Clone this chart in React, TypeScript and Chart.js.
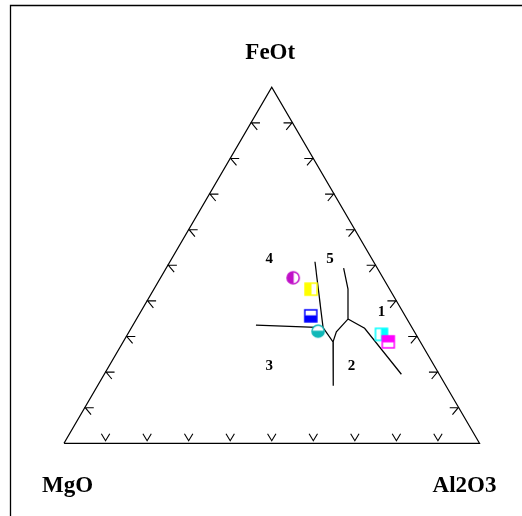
import React, { useEffect, useRef } from "react";
import { Chart, registerables } from "chart.js";
Chart.register(...registerables);

// Samples (wt% normalised): FeOt, Al2O3, MgO
const sampleFeOt = [46.5, 43.3, 35.8, 31.5, 30.6, 28.5];
const sampleAl2O3 = [31.9, 37.8, 41.5, 45.4, 61.1, 63.8];
const sampleMgO = [21.6, 18.9, 22.7, 23.1, 8.3, 7.7];
const sampleColors = ["#c010c8", "#ffff00", "#0000ff", "#10b8b8", "#00ffff", "#ff00ff"];
const sampleShapes = ["circle", "square", "square", "circle", "square", "square"];
const sampleHalf = ["left", "left", "bottom", "bottom", "right", "top"];

// Field boundaries, pairs of [FeOt, Al2O3]
const boundary1 = [[33.2, 29.6], [32.5, 46.1]];
const boundary2 = [[51.0, 34.9], [32.5, 46.1]];
const boundary3 = [[32.5, 46.1], [28.5, 50.5], [16.2, 56.7]];
const boundary4 = [[28.5, 50.5], [31.3, 49.9], [34.9, 50.9], [43.3, 46.7], [49.2, 42.7]];
const boundary5 = [[34.9, 50.9], [32.3, 56.2], [19.4, 71.5]];
const boundaries = [boundary1, boundary2, boundary3, boundary4, boundary5];

// Field labels
const fieldLabels = ["1", "2", "3", "4", "5"];
const fieldFeOt = [36.8, 21.8, 21.8, 51.8, 51.8];
const fieldAl2O3 = [58.0, 58.3, 38.5, 23.5, 38.1];

const tickPercents = [10, 20, 30, 40, 50, 60, 70, 80, 90];
const apexLabels = ["FeOt", "MgO", "Al2O3"];

const toXY = (feo: number, al: number) => ({ x: al + feo / 2, y: feo });

function makeMarker(shape: string, color: string, half: string): HTMLCanvasElement {
  const c = document.createElement("canvas");
  c.width = 16;
  c.height = 16;
  const ctx = c.getContext("2d")!;
  const path = new Path2D();
  if (shape === "circle") path.arc(8, 8, 6.1, 0, Math.PI * 2);
  else path.rect(2, 2, 12, 12);
  ctx.fillStyle = "#fff";
  ctx.fill(path);
  ctx.save();
  ctx.clip(path);
  ctx.fillStyle = color;
  if (half === "left") ctx.fillRect(0, 0, 8, 16);
  if (half === "right") ctx.fillRect(8, 0, 8, 16);
  if (half === "top") ctx.fillRect(0, 0, 16, 8);
  if (half === "bottom") ctx.fillRect(0, 8, 16, 8);
  ctx.restore();
  ctx.strokeStyle = color;
  ctx.lineWidth = 1.5;
  ctx.stroke(path);
  ctx.beginPath();
  if (half === "left" || half === "right") {
    ctx.moveTo(8, 2.5);
    ctx.lineTo(8, 13.5);
  } else {
    ctx.moveTo(2.5, 8);
    ctx.lineTo(13.5, 8);
  }
  ctx.lineWidth = 1;
  ctx.stroke();
  return c;
}

const decorPlugin = {
  id: "ternaryDecor",
  beforeDraw(chart: any) {
    const ctx = chart.ctx;
    ctx.save();
    ctx.fillStyle = "#fff";
    ctx.fillRect(0, 0, chart.width, chart.height);
    ctx.strokeStyle = "#000";
    ctx.lineWidth = 1.3;
    ctx.beginPath();
    ctx.moveTo(10.5, chart.height);
    ctx.lineTo(10.5, 5.5);
    ctx.lineTo(chart.width, 5.5);
    ctx.stroke();
    ctx.restore();
  },
  afterDatasetsDraw(chart: any) {
    const ctx = chart.ctx;
    const xs = chart.scales.x;
    const ys = chart.scales.y;
    const px = (feo: number, al: number) => {
      const p = toXY(feo, al);
      return [xs.getPixelForValue(p.x), ys.getPixelForValue(p.y)];
    };
    ctx.save();
    ctx.strokeStyle = "#000";
    ctx.lineWidth = 1.1;
    const L = 9;
    const a50 = (50 * Math.PI) / 180;
    tickPercents.forEach((t) => {
      // bottom edge (MgO - Al2O3)
      let [x, y] = px(0, t);
      ctx.beginPath();
      ctx.moveTo(x - 4.2, y - 9.5);
      ctx.lineTo(x, y - 2.5);
      ctx.lineTo(x + 4.2, y - 9.5);
      ctx.stroke();
      // left edge (MgO - FeOt)
      [x, y] = px(t, 0);
      ctx.beginPath();
      ctx.moveTo(x + L, y);
      ctx.lineTo(x + 0.5, y);
      ctx.lineTo(x + 0.5 + L * Math.cos(a50), y + L * Math.sin(a50));
      ctx.stroke();
      // right edge (Al2O3 - FeOt)
      [x, y] = px(t, 100 - t);
      ctx.beginPath();
      ctx.moveTo(x - L, y);
      ctx.lineTo(x - 0.5, y);
      ctx.lineTo(x - 0.5 - L * Math.cos(a50), y + L * Math.sin(a50));
      ctx.stroke();
    });
    // field labels
    ctx.fillStyle = "#000";
    ctx.font = "bold 15px 'Liberation Serif'";
    ctx.textAlign = "center";
    ctx.textBaseline = "middle";
    fieldLabels.forEach((lab, i) => {
      const [x, y] = px(fieldFeOt[i], fieldAl2O3[i]);
      ctx.fillText(lab, x, y);
    });
    // apex labels
    ctx.font = "bold 23px 'Liberation Serif'";
    ctx.textBaseline = "alphabetic";
    const [tx, ty] = px(100, 0);
    ctx.textAlign = "center";
    ctx.fillText(apexLabels[0], tx - 1.5, ty - 28);
    const [lx, ly] = px(0, 0);
    ctx.textAlign = "left";
    ctx.fillText(apexLabels[1], lx - 22, ly + 49);
    const [rx, ry] = px(0, 100);
    ctx.textAlign = "right";
    ctx.fillText(apexLabels[2], rx + 17, ry + 49);
    ctx.restore();
  },
};

export default function App() {
  const ref = useRef<HTMLCanvasElement | null>(null);
  useEffect(() => {
    if (!ref.current) return;
    const lineDs = (pts: { x: number; y: number }[]) => ({
      type: "scatter" as const,
      data: pts,
      showLine: true,
      borderColor: "#000",
      borderWidth: 1.25,
      pointRadius: 0,
      fill: false,
      clip: false as any,
      order: 2,
    });
    const samplePts = sampleFeOt.map((f, i) => toXY(f, sampleAl2O3[i]));
    void sampleMgO;
    const markers = sampleShapes.map((s, i) => makeMarker(s, sampleColors[i], sampleHalf[i]));
    const chart = new Chart(ref.current, {
      type: "scatter",
      data: {
        datasets: [
          {
            data: samplePts,
            pointStyle: markers as any,
            pointRadius: 6,
            clip: false as any,
            order: 0,
          } as any,
          lineDs([toXY(0, 0), toXY(0, 100), toXY(100, 0), toXY(0, 0)]),
          ...boundaries.map((b) => lineDs(b.map(([f, a]) => toXY(f, a)))),
        ],
      },
      options: {
        animation: false,
        responsive: false,
        events: [],
        layout: { padding: { left: 64, right: 42.5, top: 87.3, bottom: 72.7 } },
        scales: {
          x: { type: "linear", min: 0, max: 100, display: false },
          y: { type: "linear", min: 0, max: 100, display: false },
        },
        plugins: { legend: { display: false }, tooltip: { enabled: false } },
      },
      plugins: [decorPlugin],
    });
    return () => chart.destroy();
  }, []);
  return (
    <div style={{ position: "absolute", left: 0, top: 0, width: 522, height: 516 }}>
      <canvas ref={ref} width={522} height={516} style={{ width: 522, height: 516, display: "block" }} />
    </div>
  );
}
